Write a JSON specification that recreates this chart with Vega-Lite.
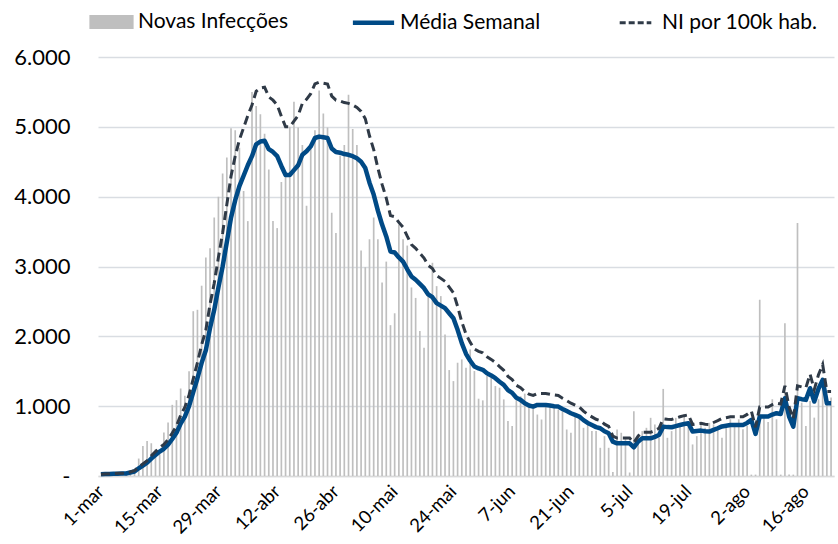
{
  "$schema": "https://vega.github.io/schema/vega-lite/v6.json",
  "width": 736,
  "height": 419,
  "autosize": {"type": "none"},
  "padding": {"left": 98, "top": 57, "right": 4, "bottom": 68},
  "background": "white",
  "config": {
    "view": {"stroke": null}, "font": "Lato",
    "legend": {
      "orient": "none", "legendX": 3, "legendY": -46,
      "direction": "horizontal", "title": null,
      "labelFontSize": 21, "labelColor": "#000000",
      "symbolSize": 1700, "labelOffset": 16,
      "gridAlign": "all", "columnPadding": 49
    }
  },
  "data": {"values": [
{"dia":"1-mar","casos":3,"media":24,"ni":26},{"dia":"2-mar","casos":2,"media":28,"ni":30},{"dia":"3-mar","casos":5,"media":30,"ni":33},{"dia":"4-mar","casos":4,"media":33,"ni":37},{"dia":"5-mar","casos":8,"media":34,"ni":38},{"dia":"6-mar","casos":12,"media":35,"ni":40},{"dia":"7-mar","casos":20,"media":36,"ni":42},{"dia":"8-mar","casos":35,"media":50,"ni":58},{"dia":"9-mar","casos":96,"media":65,"ni":76},{"dia":"10-mar","casos":250,"media":110,"ni":128},
{"dia":"11-mar","casos":430,"media":150,"ni":174},{"dia":"12-mar","casos":502,"media":190,"ni":220},{"dia":"13-mar","casos":469,"media":250,"ni":290},{"dia":"14-mar","casos":383,"media":300,"ni":348},{"dia":"15-mar","casos":311,"media":350,"ni":406},{"dia":"16-mar","casos":622,"media":390,"ni":452},{"dia":"17-mar","casos":766,"media":450,"ni":522},{"dia":"18-mar","casos":1019,"media":530,"ni":615},{"dia":"19-mar","casos":1086,"media":620,"ni":719},{"dia":"20-mar","casos":1253,"media":750,"ni":870},
{"dia":"21-mar","casos":1148,"media":850,"ni":986},{"dia":"22-mar","casos":1500,"media":1000,"ni":1160},{"dia":"23-mar","casos":2360,"media":1200,"ni":1392},{"dia":"24-mar","casos":2380,"media":1400,"ni":1624},{"dia":"25-mar","casos":2725,"media":1620,"ni":1879},{"dia":"26-mar","casos":3130,"media":1800,"ni":2088},{"dia":"27-mar","casos":3260,"media":2120,"ni":2459},{"dia":"28-mar","casos":3700,"media":2380,"ni":2761},{"dia":"29-mar","casos":4000,"media":2700,"ni":3132},{"dia":"30-mar","casos":4330,"media":3000,"ni":3480},
{"dia":"31-mar","casos":4560,"media":3350,"ni":3886},{"dia":"1-abr","casos":4980,"media":3700,"ni":4292},{"dia":"2-abr","casos":4950,"media":3950,"ni":4582},{"dia":"3-abr","casos":4700,"media":4150,"ni":4814},{"dia":"4-abr","casos":4080,"media":4300,"ni":4988},{"dia":"5-abr","casos":3650,"media":4450,"ni":5162},{"dia":"6-abr","casos":5500,"media":4580,"ni":5313},{"dia":"7-abr","casos":5300,"media":4750,"ni":5510},{"dia":"8-abr","casos":5180,"media":4790,"ni":5556},{"dia":"9-abr","casos":4900,"media":4800,"ni":5568},
{"dia":"10-abr","casos":4390,"media":4680,"ni":5429},{"dia":"11-abr","casos":3650,"media":4640,"ni":5382},{"dia":"12-abr","casos":3550,"media":4580,"ni":5313},{"dia":"13-abr","casos":4210,"media":4440,"ni":5150},{"dia":"14-abr","casos":4350,"media":4310,"ni":5000},{"dia":"15-abr","casos":5000,"media":4310,"ni":5000},{"dia":"16-abr","casos":5360,"media":4380,"ni":5081},{"dia":"17-abr","casos":4990,"media":4450,"ni":5162},{"dia":"18-abr","casos":4740,"media":4600,"ni":5336},{"dia":"19-abr","casos":3870,"media":4650,"ni":5394},
{"dia":"20-abr","casos":4700,"media":4720,"ni":5475},{"dia":"21-abr","casos":4950,"media":4840,"ni":5614},{"dia":"22-abr","casos":5520,"media":4860,"ni":5638},{"dia":"23-abr","casos":5190,"media":4850,"ni":5626},{"dia":"24-abr","casos":4990,"media":4840,"ni":5614},{"dia":"25-abr","casos":3770,"media":4690,"ni":5440},{"dia":"26-abr","casos":3480,"media":4640,"ni":5382},{"dia":"27-abr","casos":4590,"media":4630,"ni":5371},{"dia":"28-abr","casos":4740,"media":4610,"ni":5348},{"dia":"29-abr","casos":5460,"media":4600,"ni":5336},
{"dia":"30-abr","casos":4970,"media":4580,"ni":5313},{"dia":"1-mai","casos":4740,"media":4550,"ni":5278},{"dia":"2-mai","casos":3230,"media":4500,"ni":5220},{"dia":"3-mai","casos":2990,"media":4410,"ni":5116},{"dia":"4-mai","casos":3390,"media":4200,"ni":4872},{"dia":"5-mai","casos":3700,"media":4030,"ni":4675},{"dia":"6-mai","casos":3390,"media":3800,"ni":4408},{"dia":"7-mai","casos":2770,"media":3600,"ni":4176},{"dia":"8-mai","casos":3070,"media":3430,"ni":3979},{"dia":"9-mai","casos":2160,"media":3215,"ni":3729},
{"dia":"10-mai","casos":2330,"media":3200,"ni":3712},{"dia":"11-mai","casos":3600,"media":3130,"ni":3631},{"dia":"12-mai","casos":3390,"media":3070,"ni":3561},{"dia":"13-mai","casos":3300,"media":2960,"ni":3434},{"dia":"14-mai","casos":2700,"media":2857,"ni":3314},{"dia":"15-mai","casos":2550,"media":2810,"ni":3260},{"dia":"16-mai","casos":2075,"media":2750,"ni":3190},{"dia":"17-mai","casos":1836,"media":2690,"ni":3120},{"dia":"18-mai","casos":2600,"media":2600,"ni":3016},{"dia":"19-mai","casos":3053,"media":2560,"ni":2970},
{"dia":"20-mai","casos":2719,"media":2475,"ni":2871},{"dia":"21-mai","casos":2576,"media":2440,"ni":2830},{"dia":"22-mai","casos":2027,"media":2403,"ni":2787},{"dia":"23-mai","casos":1517,"media":2330,"ni":2703},{"dia":"24-mai","casos":1359,"media":2260,"ni":2622},{"dia":"25-mai","casos":1622,"media":2093,"ni":2428},{"dia":"26-mai","casos":1670,"media":1902,"ni":2206},{"dia":"27-mai","casos":1550,"media":1750,"ni":2030},{"dia":"28-mai","casos":1813,"media":1650,"ni":1914},{"dia":"29-mai","casos":1503,"media":1568,"ni":1819},
{"dia":"30-mai","casos":1107,"media":1540,"ni":1786},{"dia":"31-mai","casos":1083,"media":1520,"ni":1763},{"dia":"1-jun","casos":1431,"media":1472,"ni":1708},{"dia":"2-jun","casos":1431,"media":1440,"ni":1670},{"dia":"3-jun","casos":1288,"media":1400,"ni":1624},{"dia":"4-jun","casos":1264,"media":1350,"ni":1566},{"dia":"5-jun","casos":1097,"media":1305,"ni":1514},{"dia":"6-jun","casos":787,"media":1230,"ni":1427},{"dia":"7-jun","casos":716,"media":1190,"ni":1380},{"dia":"8-jun","casos":1085,"media":1120,"ni":1299},
{"dia":"9-jun","casos":1142,"media":1090,"ni":1264},{"dia":"10-jun","casos":1180,"media":1042,"ni":1209},{"dia":"11-jun","casos":1047,"media":1010,"ni":1172},{"dia":"12-jun","casos":976,"media":994,"ni":1153},{"dia":"13-jun","casos":880,"media":1018,"ni":1181},{"dia":"14-jun","casos":809,"media":1018,"ni":1181},{"dia":"15-jun","casos":1000,"media":1018,"ni":1181},{"dia":"16-jun","casos":1009,"media":1010,"ni":1172},{"dia":"17-jun","casos":976,"media":1000,"ni":1160},{"dia":"18-jun","casos":952,"media":994,"ni":1153},
{"dia":"19-jun","casos":928,"media":960,"ni":1114},{"dia":"20-jun","casos":666,"media":930,"ni":1079},{"dia":"21-jun","casos":619,"media":899,"ni":1043},{"dia":"22-jun","casos":880,"media":875,"ni":1015},{"dia":"23-jun","casos":857,"media":851,"ni":987},{"dia":"24-jun","casos":690,"media":800,"ni":928},{"dia":"25-jun","casos":762,"media":760,"ni":882},{"dia":"26-jun","casos":643,"media":730,"ni":847},{"dia":"27-jun","casos":643,"media":700,"ni":812},{"dia":"28-jun","casos":404,"media":684,"ni":793},
{"dia":"29-jun","casos":571,"media":640,"ni":742},{"dia":"30-jun","casos":404,"media":612,"ni":710},{"dia":"1-jul","casos":57,"media":492,"ni":571},{"dia":"2-jul","casos":666,"media":468,"ni":543},{"dia":"3-jul","casos":619,"media":468,"ni":543},{"dia":"4-jul","casos":547,"media":468,"ni":543},{"dia":"5-jul","casos":50,"media":468,"ni":543},{"dia":"6-jul","casos":928,"media":411,"ni":477},{"dia":"7-jul","casos":595,"media":492,"ni":571},{"dia":"8-jul","casos":643,"media":540,"ni":626},
{"dia":"9-jul","casos":690,"media":540,"ni":626},{"dia":"10-jul","casos":833,"media":540,"ni":626},{"dia":"11-jul","casos":738,"media":560,"ni":650},{"dia":"12-jul","casos":547,"media":588,"ni":682},{"dia":"13-jul","casos":1247,"media":707,"ni":820},{"dia":"14-jul","casos":547,"media":700,"ni":812},{"dia":"15-jul","casos":643,"media":698,"ni":810},{"dia":"16-jul","casos":833,"media":715,"ni":829},{"dia":"17-jul","casos":738,"media":731,"ni":848},{"dia":"18-jul","casos":880,"media":745,"ni":864},
{"dia":"19-jul","casos":714,"media":755,"ni":876},{"dia":"20-jul","casos":452,"media":636,"ni":738},{"dia":"21-jul","casos":571,"media":645,"ni":748},{"dia":"22-jul","casos":738,"media":650,"ni":754},{"dia":"23-jul","casos":690,"media":640,"ni":742},{"dia":"24-jul","casos":762,"media":636,"ni":738},{"dia":"25-jul","casos":738,"media":660,"ni":766},{"dia":"26-jul","casos":714,"media":684,"ni":793},{"dia":"27-jul","casos":547,"media":710,"ni":824},{"dia":"28-jul","casos":727,"media":720,"ni":835},
{"dia":"29-jul","casos":812,"media":731,"ni":848},{"dia":"30-jul","casos":717,"media":731,"ni":848},{"dia":"31-jul","casos":812,"media":731,"ni":848},{"dia":"1-ago","casos":669,"media":731,"ni":848},{"dia":"2-ago","casos":717,"media":760,"ni":882},{"dia":"3-ago","casos":20,"media":803,"ni":931},{"dia":"4-ago","casos":20,"media":602,"ni":698},{"dia":"5-ago","casos":2524,"media":851,"ni":987},{"dia":"6-ago","casos":860,"media":851,"ni":987},{"dia":"7-ago","casos":774,"media":851,"ni":987},
{"dia":"8-ago","casos":1099,"media":880,"ni":1021},{"dia":"9-ago","casos":812,"media":899,"ni":1043},{"dia":"10-ago","casos":20,"media":889,"ni":1031},{"dia":"11-ago","casos":2189,"media":1114,"ni":1292},{"dia":"12-ago","casos":20,"media":851,"ni":987},{"dia":"13-ago","casos":20,"media":707,"ni":820},{"dia":"14-ago","casos":3623,"media":1114,"ni":1292},{"dia":"15-ago","casos":1051,"media":1100,"ni":1276},{"dia":"16-ago","casos":717,"media":1090,"ni":1264},{"dia":"17-ago","casos":1075,"media":1257,"ni":1458},
{"dia":"18-ago","casos":836,"media":1066,"ni":1237},{"dia":"19-ago","casos":1099,"media":1250,"ni":1450},{"dia":"20-ago","casos":1386,"media":1377,"ni":1597},{"dia":"21-ago","casos":1099,"media":1042,"ni":1209},{"dia":"22-ago","casos":1123,"media":1042,"ni":1209}
  ]},
  "encoding": {
    "x": {
      "field": "dia", "type": "ordinal", "sort": null,
      "scale": {"paddingInner": 0.6, "paddingOuter": 0.5},
      "axis": {
        "title": null,
        "values": ["1-mar","15-mar","29-mar","12-abr","26-abr","10-mai","24-mai","7-jun","21-jun","5-jul","19-jul","2-ago","16-ago"],
        "labelAngle": -45, "labelAlign": "right", "labelBaseline": "middle",
        "labelFontSize": 18.5, "labelColor": "#000000", "labelPadding": 12,
        "ticks": false, "domain": true, "domainColor": "#D9D9D9", "domainWidth": 1.5,
        "grid": false
      }
    }
  },
  "layer": [
    {
      "mark": {"type": "bar", "opacity": 1},
      "encoding": {
        "y": {
          "field": "casos", "type": "quantitative",
          "scale": {"domain": [0, 6000], "nice": false},
          "axis": {
            "title": null,
            "values": [0, 1000, 2000, 3000, 4000, 5000, 6000],
            "labelExpr": "datum.value === 0 ? '-' : replace(format(datum.value, ','), ',', '.')",
            "labelFontSize": 22, "labelColor": "#000000", "labelPadding": 28,
            "ticks": false, "domain": false,
            "grid": true, "gridColor": "#D9DDE2", "gridWidth": 1.5
          }
        },
        "color": {
          "datum": "Novas Infecções",
          "scale": {
            "domain": ["Novas Infecções", "Média Semanal", "NI por 100k hab."],
            "range": ["#BFBFBF", "#004A86", "#2F3A47"]
          },
          "legend": {
            "encode": {
              "symbols": {
                "update": {
                  "shape": {"signal": "datum.value === 'Novas Infecções' ? 'M-1,-0.27H1V0.27H-1Z' : 'stroke'"},
                  "size": {"signal": "datum.value === 'NI por 100k hab.' ? 1000 : 1700"},
                  "fill": {"signal": "datum.value === 'Novas Infecções' ? '#BFBFBF' : 'transparent'"},
                  "stroke": {"signal": "datum.value === 'Novas Infecções' ? 'transparent' : (datum.value === 'Média Semanal' ? '#004A86' : '#2F3A47')"},
                  "strokeWidth": {"signal": "datum.value === 'Média Semanal' ? 4.5 : 3"},
                  "strokeDash": {"signal": "datum.value === 'NI por 100k hab.' ? [6, 3] : [1, 0]"},
                  "opacity": {"value": 1}
                }
              }
            }
          }
        }
      }
    },
    {
      "mark": {"type": "line", "strokeWidth": 4.5, "strokeJoin": "round"},
      "encoding": {
        "y": {"field": "media", "type": "quantitative"},
        "color": {
          "datum": "Média Semanal",
          "legend": {
            "encode": {
              "symbols": {
                "update": {
                  "shape": {"signal": "datum.value === 'Novas Infecções' ? 'M-1,-0.27H1V0.27H-1Z' : 'stroke'"},
                  "size": {"signal": "datum.value === 'NI por 100k hab.' ? 1000 : 1700"},
                  "fill": {"signal": "datum.value === 'Novas Infecções' ? '#BFBFBF' : 'transparent'"},
                  "stroke": {"signal": "datum.value === 'Novas Infecções' ? 'transparent' : (datum.value === 'Média Semanal' ? '#004A86' : '#2F3A47')"},
                  "strokeWidth": {"signal": "datum.value === 'Média Semanal' ? 4.5 : 3"},
                  "strokeDash": {"signal": "datum.value === 'NI por 100k hab.' ? [6, 3] : [1, 0]"},
                  "opacity": {"value": 1}
                }
              }
            }
          }
        }
      }
    },
    {
      "mark": {"type": "line", "strokeWidth": 3, "strokeDash": [9, 5]},
      "encoding": {
        "y": {"field": "ni", "type": "quantitative"},
        "color": {
          "datum": "NI por 100k hab.",
          "legend": {
            "encode": {
              "symbols": {
                "update": {
                  "shape": {"signal": "datum.value === 'Novas Infecções' ? 'M-1,-0.27H1V0.27H-1Z' : 'stroke'"},
                  "size": {"signal": "datum.value === 'NI por 100k hab.' ? 1000 : 1700"},
                  "fill": {"signal": "datum.value === 'Novas Infecções' ? '#BFBFBF' : 'transparent'"},
                  "stroke": {"signal": "datum.value === 'Novas Infecções' ? 'transparent' : (datum.value === 'Média Semanal' ? '#004A86' : '#2F3A47')"},
                  "strokeWidth": {"signal": "datum.value === 'Média Semanal' ? 4.5 : 3"},
                  "strokeDash": {"signal": "datum.value === 'NI por 100k hab.' ? [6, 3] : [1, 0]"},
                  "opacity": {"value": 1}
                }
              }
            }
          }
        }
      }
    }
  ]
}
